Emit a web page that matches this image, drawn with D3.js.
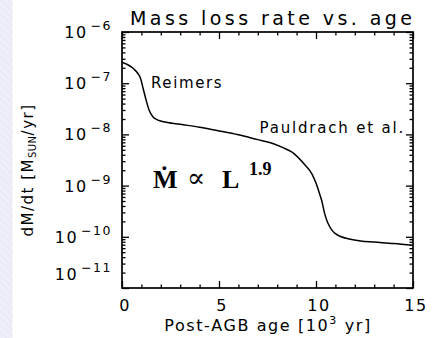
<!DOCTYPE html>
<html>
<head>
<meta charset="utf-8">
<script src="https://cdn.jsdelivr.net/npm/d3@7"></script>
<style>
  html, body { margin: 0; padding: 0; background: #ffffff; overflow: hidden; }
  svg { display: block; }
  .lbl { font-family: "DejaVu Sans", sans-serif; fill: #000; }
</style>
</head>
<body>
<svg id="chart" width="432" height="338"></svg>
<script>
// Post-AGB age in units of 10^3 yr
const ageKyr = [0, 0.3, 0.6, 0.8, 0.95, 1.1, 1.25, 1.4, 1.6, 1.8, 2.0, 3.0, 4.0, 5.0, 6.0, 7.0,
                7.7, 8.3, 8.8, 9.4, 9.8, 10.0, 10.15, 10.3, 10.45, 10.6, 10.8, 11.0, 11.3, 11.7,
                12.3, 13.0, 14.0, 15.0];
// Mass-loss rate dM/dt in M_sun / yr
const massLossRate = [2.57e-7, 2.29e-7, 1.91e-7, 1.58e-7, 1.26e-7, 7.6e-8, 4.57e-8, 2.95e-8, 2.19e-8,
                      1.95e-8, 1.82e-8, 1.58e-8, 1.38e-8, 1.17e-8, 9.8e-9, 7.9e-9, 6.8e-9, 5.5e-9,
                      4.4e-9, 2.6e-9, 1.66e-9, 1.12e-9, 7.6e-10, 5.0e-10, 2.8e-10, 1.9e-10, 1.38e-10,
                      1.15e-10, 1.0e-10, 9.1e-11, 8.3e-11, 7.9e-11, 7.4e-11, 6.8e-11];

const xMajorTicks = [0, 5, 10, 15];
const xTickLabels = ["0", "5", "10", "15"];
const yMajorTicks = [1e-6, 1e-7, 1e-8, 1e-9, 1e-10, 1e-11];
const yTickExponents = ["\u22126", "\u22127", "\u22128", "\u22129", "\u221210", "\u221211"];

const chartTitle = "Mass loss rate vs. age";
const xTitle = ["Post-AGB age [10", "3", " yr]"];
const yTitle = ["dM/dt [M", "SUN", "/yr]"];
const reimersLabel = "Reimers";
const pauldrachLabel = "Pauldrach et al.";

const svg = d3.select("#chart");

// pale striped band along the left edge of the page
const defs = svg.append("defs");
const pat = defs.append("pattern")
  .attr("id", "band").attr("patternUnits", "userSpaceOnUse")
  .attr("width", 5).attr("height", 5).attr("patternTransform", "rotate(-45)");
pat.append("rect").attr("width", 5).attr("height", 5).attr("fill", "#eeeef9");
pat.append("line").attr("x1", 0).attr("y1", 0).attr("x2", 0).attr("y2", 5)
  .attr("stroke", "#e6e6f4").attr("stroke-width", 2);
svg.append("rect").attr("x", 0).attr("y", 0).attr("width", 12.5).attr("height", 338)
  .attr("fill", "url(#band)");

const L = 122, R = 413, T = 32, B = 288;

const x = d3.scaleLinear().domain([0, 15]).range([L, R]);
const y = d3.scaleLog().domain([1e-11, 1e-6]).range([B, T]);

const xMinor = d3.range(0, 16).filter(v => v % 5 !== 0);
const yMinor = [];
for (let e = -11; e < -6; e++) for (let k = 2; k <= 9; k++) yMinor.push(k * Math.pow(10, e));

function styleAxis(g) {
  g.select(".domain").remove();
  g.selectAll(".tick line").attr("stroke", "#000").attr("stroke-width", 1.3);
  g.selectAll(".tick text").remove();
}

const axes = [
  [d3.axisBottom(x), `translate(0,${B})`, xMajorTicks, xMinor],
  [d3.axisTop(x), `translate(0,${T})`, xMajorTicks, xMinor],
  [d3.axisLeft(y), `translate(${L},0)`, yMajorTicks, yMinor],
  [d3.axisRight(y), `translate(${R},0)`, yMajorTicks, yMinor]
];
axes.forEach(([ax, tr, major, minor]) => {
  svg.append("g").attr("transform", tr)
    .call(ax.tickValues(major).tickSize(-7).tickSizeOuter(0).tickFormat(""))
    .call(styleAxis);
  svg.append("g").attr("transform", tr)
    .call(ax.tickValues(minor).tickSize(-3.5).tickSizeOuter(0).tickFormat(""))
    .call(styleAxis);
});

// plot frame
svg.append("rect").attr("x", L).attr("y", T).attr("width", R - L).attr("height", B - T)
  .attr("fill", "none").attr("stroke", "#000").attr("stroke-width", 1.7);

// mass-loss curve
const pts = ageKyr.map((a, i) => [a, massLossRate[i]]);
svg.append("path").datum(pts)
  .attr("fill", "none").attr("stroke", "#000").attr("stroke-width", 1.5)
  .attr("d", d3.line().x(d => x(d[0])).y(d => y(d[1])).curve(d3.curveMonotoneX));

// x tick labels
svg.selectAll(".xl").data(xMajorTicks).join("text")
  .attr("class", "lbl").attr("x", d => x(d) + 3).attr("y", 311)
  .attr("text-anchor", "middle").attr("font-size", 16).attr("letter-spacing", 1.5)
  .text((d, i) => xTickLabels[i]);

// y tick labels: 10 with superscript exponent (bottom one lifted clear of the x labels)
const yl = svg.selectAll(".yl").data(yMajorTicks).join("text")
  .attr("class", "lbl").attr("x", 112).attr("y", d => Math.min(y(d) + 6, 280))
  .attr("text-anchor", "end").attr("font-size", 16).attr("letter-spacing", 1.5);
yl.append("tspan").text("10");
yl.append("tspan").attr("dx", 3).attr("dy", -8).attr("font-size", 12.5)
  .text((d, i) => yTickExponents[i]);

// title
svg.append("text").attr("class", "lbl").attr("x", 271).attr("y", 25)
  .attr("text-anchor", "middle").attr("font-size", 19)
  .attr("textLength", 282).attr("lengthAdjust", "spacing").text(chartTitle);

// x axis title
const xt = svg.append("text").attr("class", "lbl").attr("x", 268).attr("y", 331)
  .attr("text-anchor", "middle").attr("font-size", 16).attr("letter-spacing", 1.6);
xt.append("tspan").text(xTitle[0]);
xt.append("tspan").attr("dy", -7).attr("font-size", 11).text(xTitle[1]);
xt.append("tspan").attr("dy", 7).text(xTitle[2]);

// y axis title
const yt = svg.append("text").attr("class", "lbl")
  .attr("transform", "translate(33,170) rotate(-90)")
  .attr("text-anchor", "middle").attr("font-size", 15).attr("letter-spacing", 1.5);
yt.append("tspan").text(yTitle[0]);
yt.append("tspan").attr("dy", 3).attr("font-size", 10).attr("letter-spacing", 0.5).text(yTitle[1]);
yt.append("tspan").attr("dy", -3).text(yTitle[2]);

// curve annotations
svg.append("text").attr("class", "lbl").attr("x", 151).attr("y", y(1e-7) + 5)
  .attr("font-size", 15).attr("letter-spacing", 1.6).text(reimersLabel);
svg.append("text").attr("class", "lbl").attr("x", 405).attr("y", y(1e-8) - 1)
  .attr("text-anchor", "end").attr("font-size", 15).attr("letter-spacing", 1.8).text(pauldrachLabel);

// scaling relation  Mdot ∝ L^1.9
const eqY = y(1e-9) + 2;
svg.append("text").attr("x", 153).attr("y", eqY)
  .attr("font-family", "'Liberation Serif', serif").attr("font-weight", "bold")
  .attr("font-size", 26).text("\u1E40");
svg.append("text").attr("x", 187).attr("y", eqY - 1)
  .attr("font-family", "'DejaVu Serif', serif").attr("font-size", 27).text("\u221D");
svg.append("text").attr("x", 222).attr("y", eqY)
  .attr("font-family", "'Liberation Serif', serif").attr("font-weight", "bold")
  .attr("font-size", 26).text("L");
svg.append("text").attr("x", 249).attr("y", eqY - 13)
  .attr("font-family", "'Liberation Serif', serif").attr("font-weight", "bold")
  .attr("font-size", 18).text("1.9");
</script>
</body>
</html>
